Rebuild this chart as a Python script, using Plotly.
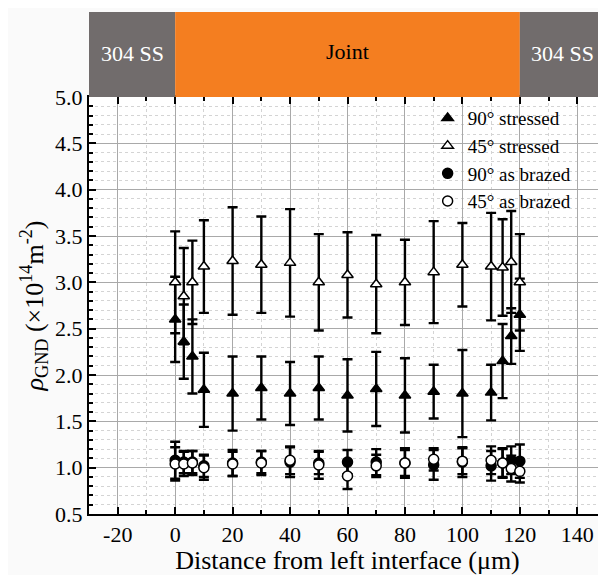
import plotly.graph_objects as go

x_pos = [0, 3, 6, 10, 20, 30, 40, 50, 60, 70, 80, 90, 100, 110, 114, 117, 120]

s90 = [2.60, 2.36, 2.20, 1.84, 1.80, 1.86, 1.80, 1.86, 1.78, 1.85, 1.78, 1.82, 1.80, 1.81, 2.15, 2.42, 2.65]
s90_err = [0.46, 0.40, 0.40, 0.40, 0.40, 0.34, 0.34, 0.34, 0.39, 0.40, 0.40, 0.29, 0.47, 0.30, 0.40, 0.30, 0.39]

s45 = [3.00, 2.85, 3.00, 3.17, 3.23, 3.19, 3.21, 3.00, 3.08, 2.98, 3.00, 3.11, 3.19, 3.17, 3.16, 3.22, 3.00]
s45_err = [0.55, 0.52, 0.45, 0.50, 0.58, 0.52, 0.58, 0.52, 0.46, 0.53, 0.46, 0.55, 0.45, 0.58, 0.52, 0.55, 0.52]

b90 = [1.08, 1.06, 1.06, 1.02, 1.05, 1.06, 1.06, 1.05, 1.06, 1.06, 1.05, 1.03, 1.06, 1.02, 1.05, 1.08, 1.07]
b90_err = [0.20, 0.12, 0.12, 0.12, 0.14, 0.12, 0.16, 0.12, 0.13, 0.14, 0.16, 0.16, 0.16, 0.16, 0.16, 0.15, 0.18]

b45 = [1.04, 1.04, 1.05, 1.00, 1.04, 1.05, 1.08, 1.03, 0.91, 1.02, 1.05, 1.09, 1.07, 1.08, 1.05, 0.99, 0.96]
b45_err = [0.18, 0.13, 0.13, 0.13, 0.13, 0.13, 0.15, 0.15, 0.14, 0.12, 0.14, 0.12, 0.14, 0.15, 0.15, 0.14, 0.12]

names = ["90° stressed", "45° stressed", "90° as brazed", "45° as brazed"]

x_ticks = [-20, 0, 20, 40, 60, 80, 100, 120, 140]
y_ticks = [0.5, 1.0, 1.5, 2.0, 2.5, 3.0, 3.5, 4.0, 4.5, 5.0]

regions = [(-30, 0, "304 SS"), (0, 120, "Joint"), (120, 150, "304 SS")]

FONT = "'Liberation Serif', 'Times New Roman', Times, 'DejaVu Serif'"

fig = go.Figure()

def add(y, err, name, symbol, fill):
    fig.add_trace(go.Scatter(
        x=x_pos, y=y, name=name, mode="markers",
        marker=dict(symbol=symbol, size=10, color=fill,
                    line=dict(color="black", width=1.5)),
        error_y=dict(type="data", array=err, visible=True,
                     color="black", thickness=2.4, width=5),
    ))

add(s90, s90_err, names[0], "triangle-up", "black")
add(s45, s45_err, names[1], "triangle-up", "white")
add(b90, b90_err, names[2], "circle", "black")
add(b45, b45_err, names[3], "circle", "white")

shapes = []
annotations = []
band_top = 1 + 85 / 417
for x0, x1, label in regions:
    is_joint = label == "Joint"
    shapes.append(dict(type="rect", xref="x", yref="paper", x0=x0, x1=x1,
                       y0=1.0, y1=band_top, line=dict(width=0),
                       fillcolor="#f47e20" if is_joint else "#716c6c", layer="above"))
    annotations.append(dict(x=(x0 + x1) / 2, y=1.11 if is_joint else 1.104,
                            xref="x", yref="paper", yanchor="middle",
                            text=label, showarrow=False,
                            font=dict(family=FONT, size=22,
                                      color="black" if is_joint else "white")))

fig.update_layout(
    width=598, height=567,
    margin=dict(l=81, r=0, t=89, b=61, autoexpand=False),
    paper_bgcolor="#fafafa", plot_bgcolor="white",
    font=dict(family=FONT, size=20, color="black"),
    shapes=shapes, annotations=annotations,
    showlegend=True,
    legend=dict(x=0.655, y=0.995, xanchor="left", yanchor="top",
                bgcolor="rgba(0,0,0,0)", font=dict(family=FONT, size=19),
                itemsizing="trace", tracegroupgap=0),
)

fig.update_xaxes(
    range=[-30, 150], tickvals=x_ticks, ticktext=[str(v) for v in x_ticks],
    ticks="inside", ticklen=7, tickwidth=1.5, tickcolor="black",
    showline=True, linecolor="black", linewidth=2, mirror="allticks",
    showgrid=True, gridcolor="#a9a9a9", gridwidth=1,
    zeroline=False,
    minor=dict(dtick=10, tick0=0, ticks="inside", ticklen=4, tickcolor="black",
               showgrid=True, gridcolor="#d4d4d4", griddash="dot", gridwidth=1),
    title=dict(text="Distance from left interface (μm)", font=dict(family=FONT, size=26), standoff=2),
    tickfont=dict(family=FONT, size=22),
)
fig.update_yaxes(
    range=[0.5, 5.0], tickvals=y_ticks, ticktext=[f"{v:.1f}" for v in y_ticks],
    ticks="inside", ticklen=7, tickwidth=1.5, tickcolor="black",
    showline=True, linecolor="black", linewidth=2, mirror="allticks",
    showgrid=True, gridcolor="#a9a9a9", gridwidth=1,
    zeroline=False,
    minor=dict(dtick=0.1, tick0=0.5, ticks="inside", ticklen=4, tickcolor="black",
               showgrid=True, gridcolor="#d4d4d4", griddash="dot", gridwidth=1),
    title=dict(text="<i>ρ</i><sub>GND</sub> (×10<sup>14</sup>m<sup>-2</sup>)",
               font=dict(family=FONT, size=26), standoff=4),
    tickfont=dict(family=FONT, size=22),
)

fig.write_html("out.html")
